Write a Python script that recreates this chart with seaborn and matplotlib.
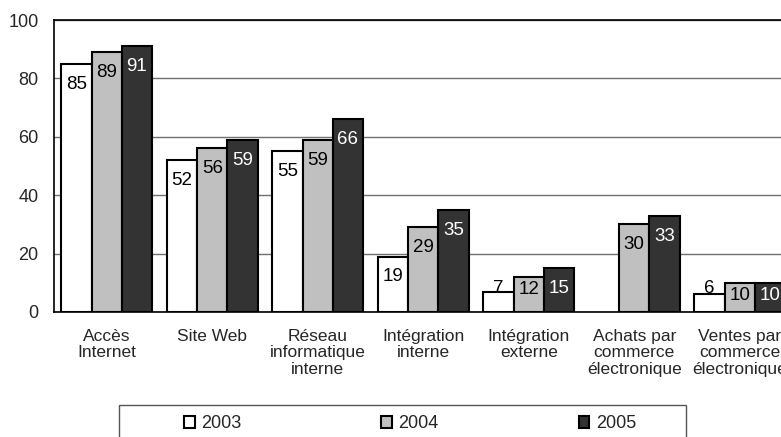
import pandas as pd
import matplotlib.pyplot as plt
import seaborn as sns
import numpy as np
from matplotlib.patches import Rectangle

# data (% of firms)
categories = ["Accès\nInternet", "Site Web", "Réseau\ninformatique\ninterne",
              "Intégration\ninterne", "Intégration\nexterne",
              "Achats par\ncommerce\nélectronique", "Ventes par\ncommerce\nélectronique"]
years = ["2003", "2004", "2005"]
v2003 = [85, 52, 55, 19, 7, np.nan, 6]
v2004 = [89, 56, 59, 29, 12, 30, 10]
v2005 = [91, 59, 66, 35, 15, 33, 10]
yticks = [0, 20, 40, 60, 80, 100]
colors = ["#ffffff", "#c0c0c0", "#333333"]
label_colors = ["black", "black", "white"]

df = pd.DataFrame({
    "categorie": categories * 3,
    "annee": np.repeat(years, len(categories)),
    "valeur": v2003 + v2004 + v2005,
}).dropna()

sns.set_style("white")
plt.rcParams["font.family"] = ["Liberation Sans", "DejaVu Sans"]

fig = plt.figure(figsize=(7.81, 4.37), dpi=100)
ax = fig.add_axes([54 / 781, 125 / 437, 738.5 / 781, 292 / 437])

sns.barplot(data=df, x="categorie", y="valeur", hue="annee", order=categories,
            hue_order=years, palette=colors, width=0.86, edgecolor="black",
            linewidth=1.5, errorbar=None, saturation=1, legend=True, ax=ax, zorder=3)

# value labels just inside the top of each bar (small bars: near the base)
for cont, col in zip(ax.containers, label_colors):
    for p in cont.patches:
        h = p.get_height()
        if np.isnan(h):
            continue
        y = min(max(h - 7, 8.2), h - 4.2) if h >= 9 else 8.2
        ax.text(p.get_x() + p.get_width() / 2, y, f"{h:.0f}", ha="center", va="center",
                fontsize=13.5, color=col, zorder=4)

ax.set_xlim(-0.5, len(categories) - 0.5)
ax.set_ylim(0, 100)
ax.set_yticks(yticks)
ax.set_xlabel("")
ax.set_ylabel("")
ax.yaxis.grid(True, color="#707070", linewidth=1)
ax.set_axisbelow(True)

ax.set_xticks(np.arange(len(categories)))
ax.set_xticks(np.arange(len(categories) + 1) - 0.5, minor=True)
ax.tick_params(axis="x", which="major", length=0, pad=12)
ax.tick_params(axis="x", which="minor", length=5, width=1, color="black", direction="out")
ax.tick_params(axis="y", length=5, width=1, color="black", direction="out", pad=6, labelsize=13)
for lbl in ax.get_xticklabels():
    lbl.set_fontsize(12.5)
    lbl.set_linespacing(1.12)

for side in ["left", "bottom", "top"]:
    ax.spines[side].set_color("black")
    ax.spines[side].set_linewidth(1.2)
ax.spines["right"].set_visible(False)

# legend below, inside a plain box
handles, labels = ax.get_legend_handles_labels()
ax.get_legend().remove()
fig.legend(handles, labels, loc="center", ncol=3, mode="expand", frameon=False,
           bbox_to_anchor=(184 / 781, 1 - 424 / 437, 452 / 781, 0),
           borderpad=0, borderaxespad=0, handlelength=0.6, handleheight=0.6,
           handletextpad=0.35, fontsize=13)
fig.patches.append(Rectangle((119 / 781, -0.05), 567 / 781, 1 - 405 / 437 + 0.05,
                             transform=fig.transFigure, fill=False,
                             edgecolor="#555555", linewidth=1))

fig.savefig("out.png", dpi=100)
